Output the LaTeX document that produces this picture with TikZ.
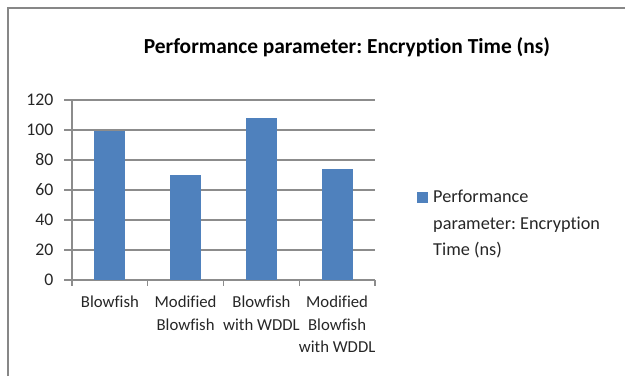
\documentclass[tikz,border=0pt]{standalone}
\usepackage{fontspec}
\setmainfont{Carlito}[Ligatures=NoCommon]
\frenchspacing
\definecolor{barblue}{HTML}{4F81BD}
\definecolor{gridgray}{HTML}{8C8C8C}
\definecolor{framegray}{HTML}{878787}
\begin{document}
\begin{tikzpicture}[x=1bp,y=-1bp,
  bar/.style={fill=barblue,draw=none},
  gridline/.style={draw=gridgray,line width=1.3bp},
  ticklabel/.style={anchor=east,inner sep=0pt,font=\fontsize{17.8}{20}\selectfont,text=black!85},
  catlabel/.style={anchor=north,inner sep=0pt,align=center,font=\fontsize{16.8}{22.3}\selectfont,text=black!85},
  legendtext/.style={anchor=north west,inner sep=0pt,align=left,font=\fontsize{18.3}{26.7}\selectfont,text=black!85}]
\useasboundingbox (0,0) rectangle (625,376);
% chart frame (only top and left edges visible)
\draw[draw=framegray,line width=2.2bp] (8,376) -- (8,8) -- (625,8);
% title
\node[inner sep=0pt,font=\bfseries\fontsize{21.5}{24}\selectfont] (title) at (347,47) {Performance parameter: Encryption Time (ns)};
% horizontal gridlines with y ticks and labels
\foreach \v in {0,20,...,120}{
  \coordinate (g\v) at (64,{280-1.5*\v});
  \coordinate (h\v) at (375,{280-1.5*\v});
  \draw[gridline] (g\v) -- (h\v);
  \node[ticklabel] (t\v) at (53.5,{280-1.5*\v}) {\v};
}
% bars
\foreach \i/\v in {1/99,2/70,3/108,4/74}{
  \pgfmathsetmacro{\cx}{72+75.75*(\i-0.5)}
  \node[bar,inner sep=0pt,minimum width=31bp,minimum height={1.5*\v*1bp},anchor=south] (b\i) at (\cx,280) {};
}
% value axis and category axis
\coordinate (ya) at (72,100);
\coordinate (yb) at (72,280);
\draw[gridline] (ya) -- (yb);
\foreach \i in {0,...,4}{
  \coordinate (xa\i) at ({72+75.75*\i},280);
  \coordinate (xb\i) at ({72+75.75*\i},286);
  \draw[gridline] (xa\i) -- (xb\i);
}
% category labels
\node[catlabel] (c1) at (109.9,296) {Blowfish};
\node[catlabel] (c2) at (185.6,296) {Modified\\Blowfish};
\node[catlabel] (c3) at (261.4,296) {Blowfish\\with WDDL};
\node[catlabel] (c4) at (337.1,296) {Modified\\Blowfish\\with WDDL};
% legend
\node[bar,inner sep=0pt,minimum width=11bp,minimum height=11bp] (key) at (422,197) {};
\node[legendtext] (leg) at (433,190) {Performance\\parameter: Encryption\\Time (ns)};
\end{tikzpicture}
\end{document}
